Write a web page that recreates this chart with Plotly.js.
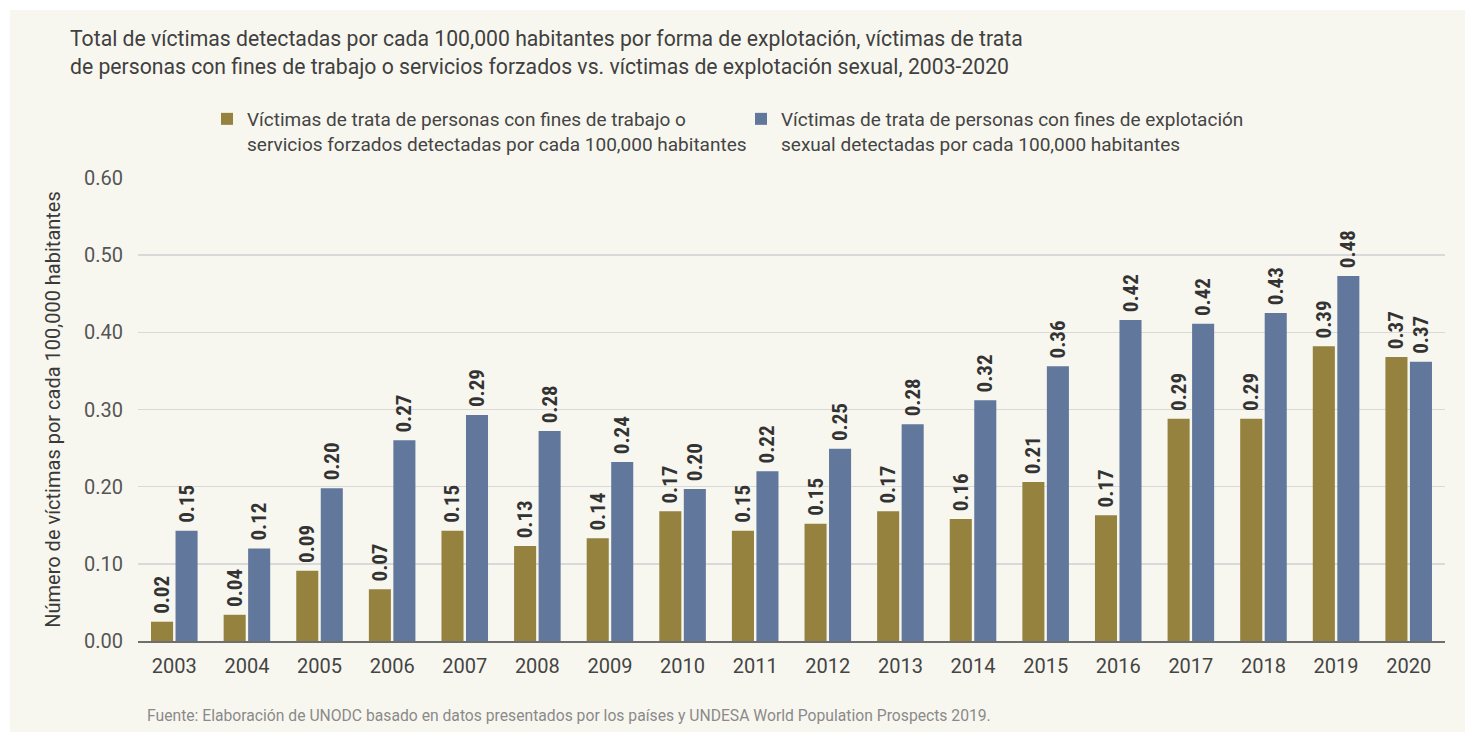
<!DOCTYPE html>
<html>
<head>
<meta charset="utf-8">
<script src="https://cdn.plot.ly/plotly-3.0.1.min.js"></script>
<style>
  html, body { margin: 0; padding: 0; background: #ffffff; width: 1465px; height: 732px; overflow: hidden; }
  #chart { position: absolute; left: 10px; top: 10px; width: 1455px; height: 722px; }
</style>
</head>
<body>
<div id="chart"></div>
<script>
const years = ['2003','2004','2005','2006','2007','2008','2009','2010','2011','2012','2013','2014','2015','2016','2017','2018','2019','2020'];
const laborValues = [0.025,0.034,0.091,0.067,0.143,0.123,0.133,0.168,0.143,0.152,0.168,0.158,0.206,0.163,0.288,0.288,0.382,0.368];
const sexualValues = [0.143,0.120,0.198,0.260,0.293,0.272,0.232,0.197,0.220,0.249,0.281,0.312,0.356,0.416,0.411,0.425,0.473,0.362];
const laborLabels = ['0.02','0.04','0.09','0.07','0.15','0.13','0.14','0.17','0.15','0.15','0.17','0.16','0.21','0.17','0.29','0.29','0.39','0.37'];
const sexualLabels = ['0.15','0.12','0.20','0.27','0.29','0.28','0.24','0.20','0.22','0.25','0.28','0.32','0.36','0.42','0.42','0.43','0.48','0.37'];
const laborName = 'Víctimas de trata de personas con fines de trabajo o<br>servicios forzados detectadas por cada 100,000 habitantes';
const sexualName = 'Víctimas de trata de personas con fines de explotación<br>sexual detectadas por cada 100,000 habitantes';
const titleText = 'Total de víctimas detectadas por cada 100,000 habitantes por forma de explotación, víctimas de trata<br>de personas con fines de trabajo o servicios forzados vs. víctimas de explotación sexual, 2003-2020';
const yTitleText = 'Número de víctimas por cada 100,000 habitantes';
const sourceText = 'Fuente: Elaboración de UNODC basado en datos presentados por los países y UNDESA World Population Prospects 2019.';

const FONT = 'Roboto, sans-serif';
const COND = 'Roboto Condensed, Liberation Sans Narrow, DejaVu Sans Condensed, Roboto, sans-serif';

function barTrace(y, name, color, labels) {
  return {
    type: 'bar', x: years, y: y, name: name,
    marker: { color: color },
    text: labels, texttemplate: '\u00a0%{text}', textposition: 'outside', textangle: -90,
    textfont: { family: COND, size: 21, color: '#333333', weight: 'bold' },
    constraintext: 'none', cliponaxis: false, hoverinfo: 'x+y'
  };
}

const traces = [
  barTrace(laborValues, laborName, '#95823f', laborLabels),
  barTrace(sexualValues, sexualName, '#61779c', sexualLabels)
];

const layout = {
  width: 1455, height: 722,
  paper_bgcolor: '#f8f7ef', plot_bgcolor: '#f8f7ef',
  font: { family: FONT, color: '#444444' },
  margin: { l: 128, r: 20, t: 168, b: 91 },
  barmode: 'group', bargap: 0.325, bargroupgap: 0.1,
  title: {
    text: titleText, xref: 'container', yref: 'container',
    x: 60/1455, xanchor: 'left', y: 1 - 36/722, yanchor: 'top',
    font: { family: FONT, size: 21.2, color: '#404040' }
  },
  showlegend: true,
  legend: {
    orientation: 'h', xref: 'container', yref: 'container',
    x: 197/1455, xanchor: 'left', y: 1 - 90/722, yanchor: 'top',
    valign: 'top', entrywidth: 489, entrywidthmode: 'pixels',
    font: { family: FONT, size: 19, color: '#444444' },
    bgcolor: 'rgba(0,0,0,0)', itemclick: false, traceorder: 'normal'
  },
  xaxis: {
    type: 'category', range: [-0.5, 17.5], showgrid: false,
    showline: true, linecolor: '#6e6e6e', linewidth: 1.5,
    ticks: '', ticklabelstandoff: 6,
    tickfont: { family: FONT, size: 20, color: '#444444' },
    fixedrange: true, automargin: false
  },
  yaxis: {
    range: [0, 0.6], dtick: 0.1, tickformat: '.2f',
    showgrid: true, gridcolor: '#d9d9d9', gridwidth: 1.5, zeroline: false,
    showline: false, ticks: '', ticklabelstandoff: 14,
    tickfont: { family: FONT, size: 20, color: '#555555' },
    title: { text: yTitleText + '\u00a0\u00a0\u00a0', standoff: 18,
             font: { family: FONT, size: 20, color: '#3a3a3a' } },
    fixedrange: true, automargin: false
  },
  annotations: [
    {
      text: sourceText, xref: 'paper', yref: 'paper',
      x: 0.005, xanchor: 'left', y: -0.16, yanchor: 'middle',
      showarrow: false, font: { family: FONT, size: 15.7, color: '#8a8a8a' }
    }
  ]
};

Plotly.newPlot('chart', traces, layout, { displayModeBar: false, staticPlot: true });
</script>
</body>
</html>
